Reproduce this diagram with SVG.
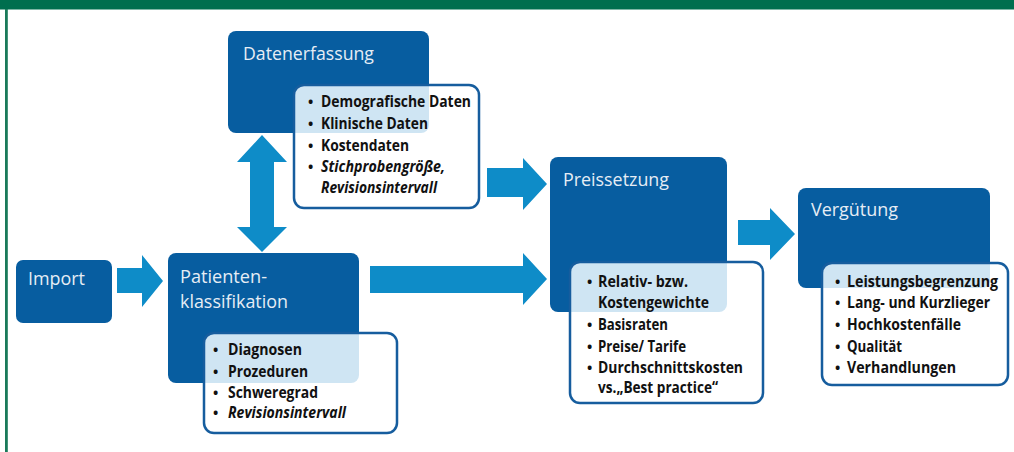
<svg xmlns="http://www.w3.org/2000/svg" width="1014" height="452" viewBox="0 0 1014 452">
<style>
.box{fill:#075da0}
.det{fill:#ffffff}
.ov{fill:#cfe5f3}
.detb{fill:none;stroke:#165d9e;stroke-width:2.5}
.arrow{fill:#0e8cc8}
.title{font-family:"Open Sans","Noto Sans",sans-serif;font-size:17.5px;fill:#e6edf5}
.t{font-family:"Open Sans","Noto Sans",sans-serif;font-size:16px;font-weight:700;fill:#111111}
.i{font-style:italic}
.b{font-family:"Open Sans","Noto Sans",sans-serif;font-size:14px;font-weight:700;fill:#111111}
</style>
<defs>
<clipPath id="cD"><rect x="294" y="85" width="185" height="123" rx="10"/></clipPath>
<clipPath id="cP"><rect x="204" y="333" width="193" height="100" rx="10"/></clipPath>
<clipPath id="cR"><rect x="570" y="262" width="193" height="141" rx="10"/></clipPath>
<clipPath id="cV"><rect x="822" y="263" width="186" height="122" rx="10"/></clipPath>
</defs>
<rect x="0" y="0" width="1014" height="452" fill="#ffffff"/>
<g id="frame">
<rect x="0" y="0" width="1014" height="9.5" fill="#006e4e"/>
<rect x="5" y="9" width="2.8" height="443" fill="#1a7a5a"/>
</g>
<g id="connectors">
<polygon class="arrow" points="262,135 287,162 274,162 274,227 287,227 262,252 237,227 250,227 250,162 237,162"/>
<polygon class="arrow" points="117,268 142,268 142,255 163,281 142,307 142,293 117,293"/>
<polygon class="arrow" points="487,168 523,168 523,158 547,184 523,210 523,197 487,197"/>
<polygon class="arrow" points="370,266 523,266 523,253 547,279 523,305 523,293 370,293"/>
<polygon class="arrow" points="738,220 770,220 770,208 795,234 770,260 770,245 738,245"/>
</g>
<g id="import">
<rect class="box" x="16" y="260" width="96" height="63" rx="7"/>
<text class="title" x="28" y="285" textLength="57" lengthAdjust="spacingAndGlyphs">Import</text>
</g>
<g id="datenerfassung">
<rect class="box" x="228" y="31" width="201" height="102" rx="8"/>
<rect class="det" x="294" y="85" width="185" height="123" rx="10"/>
<rect class="ov" x="228" y="31" width="201" height="102" rx="8" clip-path="url(#cD)"/>
<rect class="detb" x="294" y="85" width="185" height="123" rx="10"/>
<text class="title" x="243" y="60" textLength="131" lengthAdjust="spacingAndGlyphs">Datenerfassung</text>
<text class="b" x="308" y="107">•</text>
<text class="t" x="321" y="107" textLength="150" lengthAdjust="spacingAndGlyphs">Demografische Daten</text>
<text class="b" x="308" y="129">•</text>
<text class="t" x="321" y="129" textLength="107" lengthAdjust="spacingAndGlyphs">Klinische Daten</text>
<text class="b" x="308" y="151">•</text>
<text class="t" x="321" y="151" textLength="88" lengthAdjust="spacingAndGlyphs">Kostendaten</text>
<text class="b" x="308" y="172">•</text>
<text class="t i" x="321" y="172" textLength="124" lengthAdjust="spacingAndGlyphs">Stichprobengröße,</text>
<text class="t i" x="321" y="193" textLength="116" lengthAdjust="spacingAndGlyphs">Revisionsintervall</text>
</g>
<g id="patientenklassifikation">
<rect class="box" x="168" y="253" width="191" height="130" rx="8"/>
<rect class="det" x="204" y="333" width="193" height="100" rx="10"/>
<rect class="ov" x="168" y="253" width="191" height="130" rx="8" clip-path="url(#cP)"/>
<rect class="detb" x="204" y="333" width="193" height="100" rx="10"/>
<text class="title" x="180" y="283" textLength="87" lengthAdjust="spacingAndGlyphs">Patienten-</text>
<text class="title" x="180" y="308" textLength="108" lengthAdjust="spacingAndGlyphs">klassifikation</text>
<text class="b" x="213" y="355">•</text>
<text class="t" x="228" y="355" textLength="74" lengthAdjust="spacingAndGlyphs">Diagnosen</text>
<text class="b" x="213" y="377">•</text>
<text class="t" x="228" y="377" textLength="80" lengthAdjust="spacingAndGlyphs">Prozeduren</text>
<text class="b" x="213" y="398">•</text>
<text class="t" x="228" y="398" textLength="90" lengthAdjust="spacingAndGlyphs">Schweregrad</text>
<text class="b" x="213" y="418">•</text>
<text class="t i" x="228" y="418" textLength="118" lengthAdjust="spacingAndGlyphs">Revisionsintervall</text>
</g>
<g id="preissetzung">
<rect class="box" x="550" y="157" width="177" height="155" rx="8"/>
<rect class="det" x="570" y="262" width="193" height="141" rx="10"/>
<rect class="ov" x="550" y="157" width="177" height="155" rx="8" clip-path="url(#cR)"/>
<rect class="detb" x="570" y="262" width="193" height="141" rx="10"/>
<text class="title" x="563" y="186" textLength="106" lengthAdjust="spacingAndGlyphs">Preissetzung</text>
<text class="b" x="587" y="287">•</text>
<text class="t" x="598" y="287" textLength="90" lengthAdjust="spacingAndGlyphs">Relativ- bzw.</text>
<text class="t" x="598" y="308" textLength="111" lengthAdjust="spacingAndGlyphs">Kostengewichte</text>
<text class="b" x="587" y="330">•</text>
<text class="t" x="598" y="330" textLength="70" lengthAdjust="spacingAndGlyphs">Basisraten</text>
<text class="b" x="587" y="352">•</text>
<text class="t" x="598" y="352" textLength="88" lengthAdjust="spacingAndGlyphs">Preise/ Tarife</text>
<text class="b" x="587" y="373">•</text>
<text class="t" x="598" y="373" textLength="145" lengthAdjust="spacingAndGlyphs">Durchschnittskosten</text>
<text class="t" x="598" y="393" textLength="120" lengthAdjust="spacingAndGlyphs">vs.„Best practice“</text>
</g>
<g id="verguetung">
<rect class="box" x="798" y="188" width="192" height="100" rx="8"/>
<rect class="det" x="822" y="263" width="186" height="122" rx="10"/>
<rect class="ov" x="798" y="188" width="192" height="100" rx="8" clip-path="url(#cV)"/>
<rect class="detb" x="822" y="263" width="186" height="122" rx="10"/>
<text class="title" x="811" y="216" textLength="87" lengthAdjust="spacingAndGlyphs">Vergütung</text>
<text class="b" x="835" y="287">•</text>
<text class="t" x="847" y="287" textLength="151" lengthAdjust="spacingAndGlyphs">Leistungsbegrenzung</text>
<text class="b" x="835" y="308">•</text>
<text class="t" x="847" y="308" textLength="143" lengthAdjust="spacingAndGlyphs">Lang- und Kurzlieger</text>
<text class="b" x="835" y="330">•</text>
<text class="t" x="847" y="330" textLength="114" lengthAdjust="spacingAndGlyphs">Hochkostenfälle</text>
<text class="b" x="835" y="352">•</text>
<text class="t" x="847" y="352" textLength="55" lengthAdjust="spacingAndGlyphs">Qualität</text>
<text class="b" x="835" y="373">•</text>
<text class="t" x="847" y="373" textLength="109" lengthAdjust="spacingAndGlyphs">Verhandlungen</text>
</g>
</svg>
